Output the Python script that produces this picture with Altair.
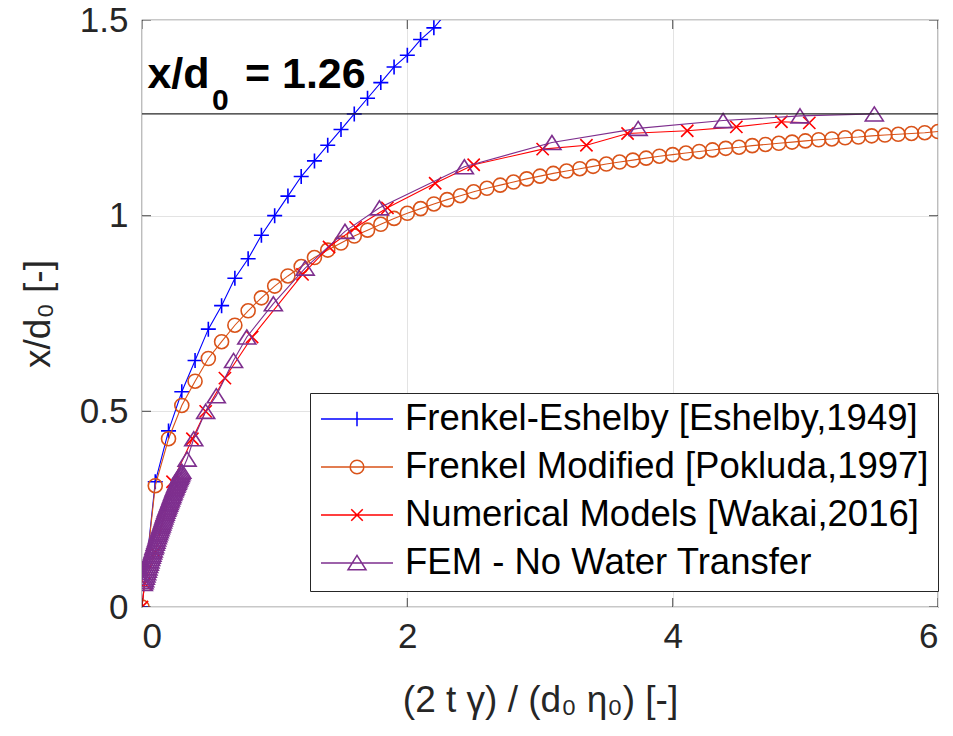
import altair as alt
import pandas as pd

# ---------------- data ----------------
SERIES = [
    "Frenkel-Eshelby [Eshelby,1949]",
    "Frenkel Modified [Pokluda,1997]",
    "Numerical Models [Wakai,2016]",
    "FEM - No Water Transfer",
]
COLORS = ["#0000FF", "#D95319", "#FF0000", "#7E2F8E"]

fe_x = [0.0, 0.1, 0.2, 0.3, 0.4, 0.5, 0.6, 0.7, 0.8, 0.9, 1.0, 1.1, 1.2,
        1.3, 1.4, 1.5, 1.6, 1.7, 1.8, 1.9, 2.0, 2.1, 2.2, 2.3, 2.4]
fe_y = [0.0, 0.32, 0.45, 0.55, 0.63, 0.71, 0.77, 0.84, 0.89, 0.95, 1.0, 1.05, 1.1,
        1.14, 1.18, 1.22, 1.26, 1.3, 1.34, 1.38, 1.41, 1.45, 1.48, 1.52, 1.55]

fm_x = [0.0, 0.1, 0.2, 0.3, 0.4, 0.5, 0.6, 0.7, 0.8, 0.9,
        1.0, 1.1, 1.2, 1.3, 1.4, 1.5, 1.6, 1.7, 1.8, 1.9,
        2.0, 2.1, 2.2, 2.3, 2.4, 2.5, 2.6, 2.7, 2.8, 2.9,
        3.0, 3.1, 3.2, 3.3, 3.4, 3.5, 3.6, 3.7, 3.8, 3.9,
        4.0, 4.1, 4.2, 4.3, 4.4, 4.5, 4.6, 4.7, 4.8, 4.9,
        5.0, 5.1, 5.2, 5.3, 5.4, 5.5, 5.6, 5.7, 5.8, 5.9, 6.0]
fm_y = [0.0, 0.31, 0.43, 0.515, 0.577, 0.635, 0.678, 0.72, 0.757, 0.79,
        0.82, 0.846, 0.87, 0.893, 0.912, 0.93, 0.948, 0.963, 0.978, 0.993,
        1.006, 1.018, 1.03, 1.041, 1.051, 1.061, 1.07, 1.078, 1.086, 1.094,
        1.101, 1.108, 1.114, 1.12, 1.126, 1.132, 1.137, 1.142, 1.147, 1.152,
        1.156, 1.16, 1.164, 1.168, 1.172, 1.175, 1.179, 1.182, 1.185, 1.188,
        1.191, 1.194, 1.196, 1.199, 1.201, 1.204, 1.206, 1.208, 1.21, 1.212, 1.215]

nm_x = [0.0, 0.02, 0.10, 0.23, 0.38, 0.48, 0.625, 0.83, 1.21, 1.41, 1.61, 1.85,
        2.21, 2.50, 3.02, 3.35, 3.66, 4.11, 4.48, 4.82, 5.03]
nm_y = [0.0, 0.06, 0.14, 0.32, 0.43, 0.50, 0.585, 0.69, 0.85, 0.92, 0.97, 1.02,
        1.083, 1.13, 1.17, 1.18, 1.21, 1.217, 1.227, 1.24, 1.237]

fem_x = [0.01, 0.015, 0.02, 0.025, 0.03, 0.035, 0.04, 0.045, 0.05, 0.055,
         0.06, 0.065, 0.07, 0.075, 0.08, 0.085, 0.09, 0.095, 0.10, 0.105,
         0.11, 0.115, 0.12, 0.125, 0.13, 0.135, 0.14, 0.145, 0.15, 0.155,
         0.16, 0.165, 0.17, 0.175, 0.18, 0.185, 0.19, 0.195, 0.20, 0.205,
         0.21, 0.215, 0.22, 0.225, 0.23, 0.235, 0.24, 0.245, 0.25, 0.255,
         0.26, 0.265, 0.27, 0.275, 0.28, 0.285, 0.29, 0.295, 0.30,
         0.34, 0.39, 0.48, 0.56, 0.69, 0.79, 0.99, 1.23, 1.53, 1.79,
         2.43, 3.09, 3.74, 4.38, 4.96, 5.52]
fem_y = [0.06, 0.065, 0.07, 0.076, 0.082, 0.088, 0.094, 0.10, 0.106, 0.112,
         0.118, 0.124, 0.13, 0.135, 0.141, 0.146, 0.152, 0.157, 0.163, 0.168,
         0.174, 0.18, 0.185, 0.19, 0.195, 0.20, 0.205, 0.21, 0.215, 0.22,
         0.225, 0.23, 0.235, 0.24, 0.245, 0.25, 0.254, 0.258, 0.263, 0.267,
         0.272, 0.276, 0.281, 0.285, 0.29, 0.294, 0.299, 0.303, 0.307, 0.311,
         0.315, 0.319, 0.323, 0.327, 0.331, 0.335, 0.339, 0.343, 0.347,
         0.378, 0.43, 0.50, 0.54, 0.63, 0.69, 0.775, 0.866, 0.96, 1.02,
         1.125, 1.187, 1.223, 1.243, 1.255, 1.26]

ASYMPTOTE = [1.26]
X_TICKS = [0, 2, 4, 6]
Y_TICKS = [0, 0.5, 1, 1.5]

# ---------------- styling ----------------
FONT = "Liberation Sans"
AX = "#262626"
MARKER_PATHS = [
    "M-1,0H1M0,-1V1",                       # +
    "circle",                               # o
    "M-1,-1L1,1M-1,1L1,-1",                 # x
    "M0,-0.78L1,0.78L-1,0.78Z",             # ^
]
MARKER_SIZES = [225, 196, 150, 324]
LEGEND_PATHS = [
    "M-1,0H1M0,-0.2V0.2",
    "M-1,0H1M0.19,0A0.19,0.19 0 1,1 -0.19,0A0.19,0.19 0 1,1 0.19,0",
    "M-1,0H1M-0.16,-0.16L0.16,0.16M-0.16,0.16L0.16,-0.16",
    "M-1,0H1M0,-0.21L0.25,0.19L-0.25,0.19Z",
]

frames = []
for name, xs, ys in zip(SERIES, [fe_x, fm_x, nm_x, fem_x], [fe_y, fm_y, nm_y, fem_y]):
    frames.append(pd.DataFrame({"x": xs, "y": ys, "series": name, "idx": range(len(xs))}))
df = pd.concat(frames, ignore_index=True)

x_scale = alt.Scale(domain=[0, 6], nice=False, zero=False)
y_scale = alt.Scale(domain=[0, 1.5], nice=False, zero=False)

x_enc = alt.X(
    "x:Q", scale=x_scale,
    axis=alt.Axis(
        values=X_TICKS, format="~g", title="(2 t γ) / (d₀ η₀)  [-]",
        grid=True, gridColor="#E3E3E3", domain=False, ticks=False,
        labelPadding=12, titlePadding=28,
    ),
)
y_enc = alt.Y(
    "y:Q", scale=y_scale,
    axis=alt.Axis(
        values=Y_TICKS, format="~g", title="x/d₀ [-]",
        grid=True, gridColor="#E3E3E3", domain=False, ticks=False,
        labelPadding=14, titlePadding=22,
    ),
)

layers = []
for name, col, shp, sz in zip(SERIES, COLORS, MARKER_PATHS, MARKER_SIZES):
    sub = df[df["series"] == name]
    layers.append(
        alt.Chart(sub).mark_line(color=col, strokeWidth=1.1, clip=True).encode(
            x=x_enc, y=y_enc, order="idx:Q"
        )
    )
    layers.append(
        alt.Chart(sub).mark_point(
            shape=shp, size=sz, filled=False, color=col, strokeWidth=1.6,
            opacity=1, clip=True
        ).encode(x=x_enc, y=y_enc)
    )

rule = alt.Chart(pd.DataFrame({"y": ASYMPTOTE})).mark_rule(
    color=AX, strokeWidth=1.2
).encode(y=alt.Y("y:Q"))

# inward tick marks on all four sides (half of each tick is clipped away)
xt = pd.DataFrame({"t": X_TICKS})
yt = pd.DataFrame({"t": Y_TICKS})
ticks = [
    alt.Chart(xt).mark_tick(orient="vertical", size=18, thickness=1.2, color=AX, clip=True)
    .encode(x=alt.X("t:Q"), y=alt.datum(0)),
    alt.Chart(xt).mark_tick(orient="vertical", size=18, thickness=1.2, color=AX, clip=True)
    .encode(x=alt.X("t:Q"), y=alt.datum(1.5)),
    alt.Chart(yt).mark_tick(orient="horizontal", size=18, thickness=1.2, color=AX, clip=True)
    .encode(y=alt.Y("t:Q"), x=alt.datum(0)),
    alt.Chart(yt).mark_tick(orient="horizontal", size=18, thickness=1.2, color=AX, clip=True)
    .encode(y=alt.Y("t:Q"), x=alt.datum(6)),
]

ann_main = alt.Chart().mark_text(
    text="x/d", align="left", baseline="alphabetic", font=FONT,
    fontSize=43, fontWeight="bold", color="black"
).encode(x=alt.datum(0.041), y=alt.datum(1.326))
ann_sub = alt.Chart().mark_text(
    text="0", align="left", baseline="alphabetic", font=FONT,
    fontSize=30, fontWeight="bold", color="black"
).encode(x=alt.datum(0.527), y=alt.datum(1.27))
ann_val = alt.Chart().mark_text(
    text="= 1.26", align="left", baseline="alphabetic", font=FONT,
    fontSize=43, fontWeight="bold", color="black"
).encode(x=alt.datum(0.776), y=alt.datum(1.326))

LEG = alt.Legend(
    orient="none", legendX=168, legendY=373, title=None,
    labelFontSize=36.5, labelFont=FONT, labelColor="black", labelLimit=0,
    symbolSize=5184, symbolStrokeWidth=1.5, clipHeight=34,
    labelOffset=11, rowPadding=11, padding=9,
    strokeColor=AX, fillColor="white", symbolOffset=1,
)
legend_df = pd.DataFrame({"series": SERIES})
legend_layer = alt.Chart(legend_df).mark_point(
    filled=False, opacity=1, clip=True, strokeWidth=1.5
).encode(
    x=alt.datum(-1), y=alt.datum(-1),
    shape=alt.Shape("series:N", scale=alt.Scale(domain=SERIES, range=LEGEND_PATHS), legend=LEG),
    stroke=alt.Stroke("series:N", scale=alt.Scale(domain=SERIES, range=COLORS), legend=LEG),
)

chart = alt.layer(
    *layers, rule, *ticks, ann_main, ann_sub, ann_val, legend_layer
).properties(
    width=796, height=587,
    autosize=alt.AutoSizeParams(type="none"),
    padding={"left": 142, "top": 20, "right": 15, "bottom": 129},
).configure_view(
    stroke=AX, strokeWidth=1.2
).configure_axis(
    labelFont=FONT, titleFont=FONT, labelFontSize=35, titleFontSize=37,
    labelColor=AX, titleColor=AX, titleFontWeight="normal",
)

chart.save("out.html", embed_options={"renderer": "svg", "actions": False})
